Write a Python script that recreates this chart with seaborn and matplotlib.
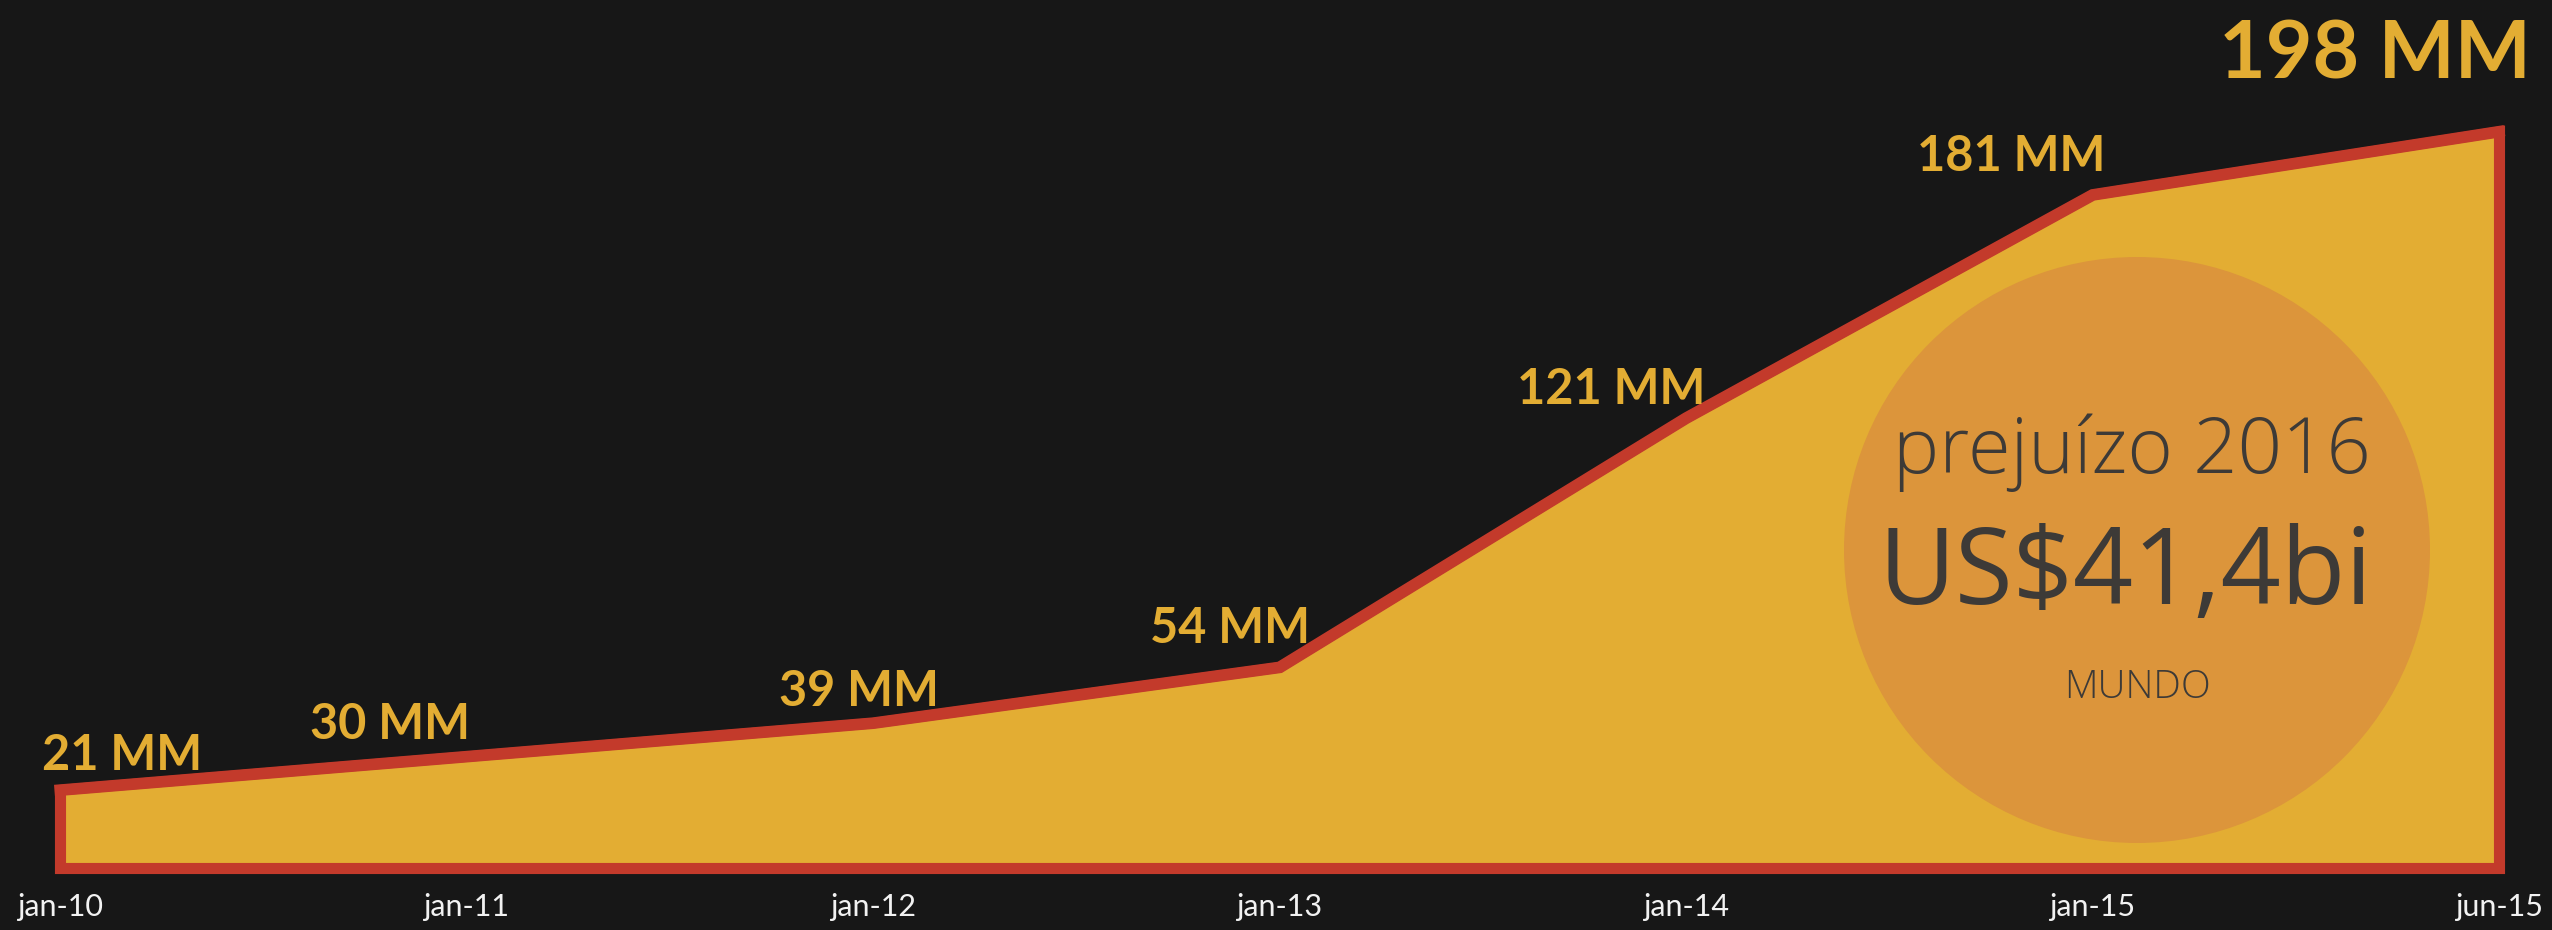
import numpy as np
import pandas as pd
import matplotlib.pyplot as plt
import seaborn as sns
from matplotlib.patches import Ellipse

# data
periods = ['jan-10', 'jan-11', 'jan-12', 'jan-13', 'jan-14', 'jan-15', 'jun-15']
users_mm = [21, 30, 39, 54, 121, 181, 198]
loss_year = '2016'
loss_value = 'US$41,4bi'
loss_region = 'MUNDO'

BG = '#171717'
FILL = '#E3AD33'
EDGE = '#C33A2B'
CIRCLE = '#DC953B'
DARK = '#3D3A37'

sns.set_theme(style='dark', rc={'axes.facecolor': BG, 'figure.facecolor': BG})
plt.rcParams['font.family'] = ['Lato', 'DejaVu Sans']

df = pd.DataFrame({'period': periods, 'value': users_mm})
xs = np.arange(len(periods))

W, H = 2552, 930
fig = plt.figure(figsize=(W / 100, H / 100), dpi=100)
ax = fig.add_axes([0, 50 / H, 1, 880 / H])

# pixel mapping: x_i = 60 + 406.5*i, y=0 at 868px, 3.72 px per unit
px_x, px_y = 406.5, 3.72
xmin = -60 / px_x
ax.set_xlim(xmin, xmin + W / px_x)
ymin = -12 / px_y
ax.set_ylim(ymin, ymin + 880 / px_y)

ax.fill_between(xs, users_mm, 0, facecolor=FILL, edgecolor=EDGE,
                linewidth=8, joinstyle='miter', zorder=2)
sns.lineplot(x='period', y='value', data=df, color=EDGE, linewidth=8,
             ax=ax, zorder=4, sort=False)
for l in ax.lines:
    l.set_solid_joinstyle('miter')
    l.set_solid_capstyle('projecting')

# circle with the loss figure
cx, cy, r = (2137 - 60) / px_x, (868 - 550) / px_y, 293
ax.add_patch(Ellipse((cx, cy), 2 * r / px_x, 2 * r / px_y, facecolor=CIRCLE,
                     edgecolor='none', zorder=3))

# value labels (offsets in pixels from each point)
offsets = [(62, 20), (-76, 17), (-14, 17), (-50, 24), (-75, 14), (-81, 24), (-124, 53)]
for i, (v, (dx, dy)) in enumerate(zip(users_mm, offsets)):
    big = i == len(users_mm) - 1
    ax.annotate(f'{v} MM', xy=(i, v), xytext=(dx, dy), textcoords='offset pixels',
                ha='center', va='baseline', color=FILL, fontweight='bold',
                fontsize=58 if big else 35, zorder=5)

ax.set_xticks(xs, periods)
ax.set_yticks([])
ax.tick_params(axis='x', length=0, pad=9, labelsize=22, colors='#F2F2F2')
ax.set_xlabel('')
ax.set_ylabel('')
for s in ax.spines.values():
    s.set_visible(False)
ax.grid(False)

fig.text(2132 / W, 1 - 473 / H, f'prejuízo {loss_year}', ha='center', va='baseline',
         fontsize=56, fontweight='light', color=DARK, family=['Open Sans', 'DejaVu Sans'])
fig.text(2125 / W, 1 - 604 / H, loss_value, ha='center', va='baseline',
         fontsize=76, color=DARK, family=['Open Sans', 'DejaVu Sans'])
fig.text(2137 / W, 1 - 698 / H, loss_region, ha='center', va='baseline',
         fontsize=28, fontweight='light', color=DARK, family=['Open Sans', 'DejaVu Sans'])

plt.savefig('out.png', dpi=100, facecolor=BG)
plt.close('all')
